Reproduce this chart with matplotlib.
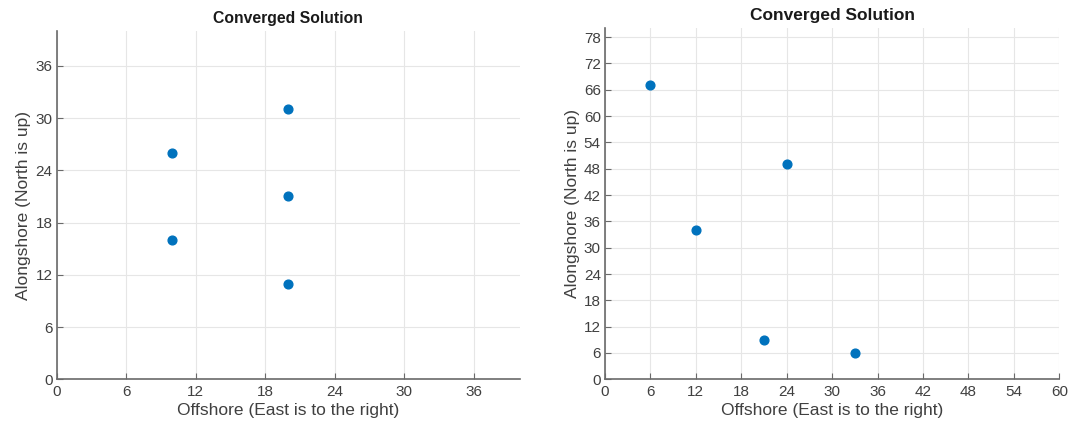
import matplotlib
matplotlib.use("Agg")
import matplotlib.pyplot as plt

# Converged source positions for the two runs
left_x = [10, 10, 20, 20, 20]
left_y = [16, 26, 31, 21, 11]
left_ticks = [0, 6, 12, 18, 24, 30, 36]

right_x = [6, 12, 24, 21, 33]
right_y = [67, 34, 49, 9, 6]
right_xticks = [0, 6, 12, 18, 24, 30, 36, 42, 48, 54, 60]
right_yticks = [0, 6, 12, 18, 24, 30, 36, 42, 48, 54, 60, 66, 72, 78]

title = "Converged Solution"
xlabel = "Offshore (East is to the right)"
ylabel = "Alongshore (North is up)"

plt.rcParams['font.family'] = ['Liberation Sans', 'DejaVu Sans']

BLUE = "#0072BD"
AX_COL = "#6a6a6a"
TXT_COL = "#404040"

fig = plt.figure(figsize=(10.75, 4.26), dpi=100)
ax1 = fig.add_axes([0.0527, 0.1096, 0.4310, 0.8176])
ax2 = fig.add_axes([0.5628, 0.1096, 0.4226, 0.8240])


def style(ax, xticks, yticks, xlim, ylim, title_size, title_pad):
    ax.set_xlim(*xlim)
    ax.set_ylim(*ylim)
    ax.set_xticks(xticks)
    ax.set_yticks(yticks)
    ax.grid(True, color="#e6e6e6", linewidth=0.8)
    ax.set_axisbelow(True)
    for s in ("top", "right"):
        ax.spines[s].set_visible(False)
    for s in ("left", "bottom"):
        ax.spines[s].set_color(AX_COL)
        ax.spines[s].set_linewidth(1.2)
    ax.tick_params(direction="in", length=4, width=0.8, color=AX_COL,
                   labelcolor=TXT_COL, labelsize=11)
    ax.tick_params(axis="x", pad=4)
    ax.tick_params(axis="y", pad=3)
    ax.set_xlabel(xlabel, fontsize=12.5, color=TXT_COL, labelpad=3)
    ax.set_ylabel(ylabel, fontsize=12.5, color=TXT_COL, labelpad=3)
    ax.set_title(title, fontsize=title_size, fontweight="bold",
                 color="#1a1a1a", pad=title_pad)


ax1.plot(left_x, left_y, "o", color=BLUE, markersize=6.3, linestyle="none")
style(ax1, left_ticks, left_ticks, (0, 40), (0, 40), 11.3, 6)

ax2.plot(right_x, right_y, "o", color=BLUE, markersize=6.3, linestyle="none")
style(ax2, right_xticks, right_yticks, (0, 60), (0, 80), 12.5, 6)

fig.savefig("out.png", dpi=100, facecolor="white")
